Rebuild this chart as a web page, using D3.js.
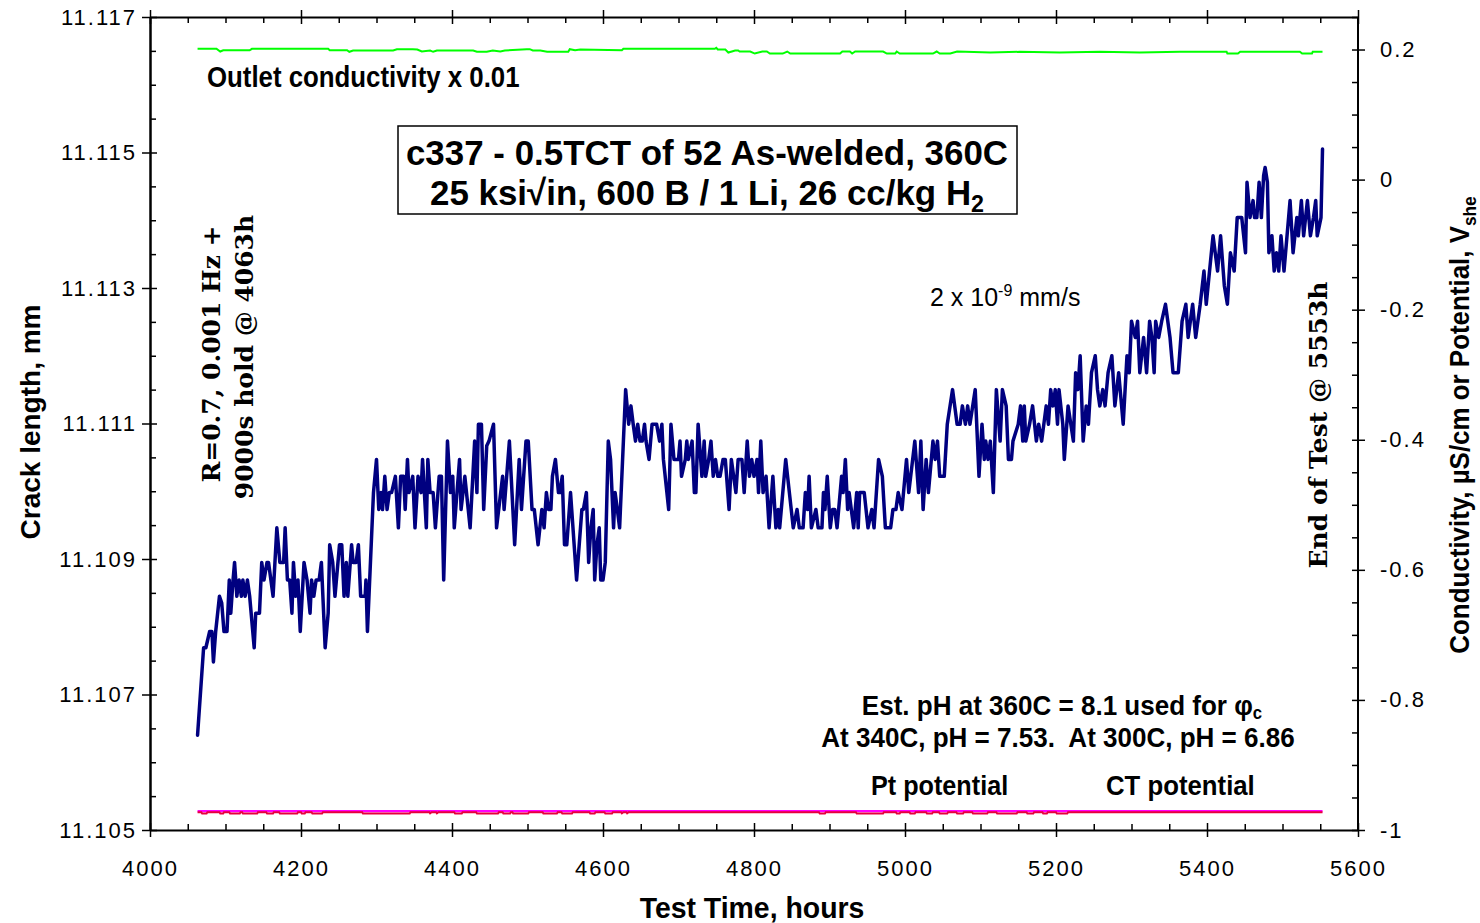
<!DOCTYPE html>
<html>
<head>
<meta charset="utf-8">
<script src="https://cdn.jsdelivr.net/npm/d3@7"></script>
<style>
  body { margin: 0; background: #fff; }
  svg { display: block; font-family: "Liberation Sans", Arial, sans-serif; }
  .axis .tick text { font-size: 22px; letter-spacing: 2px; fill: #000; }
  .axis path.domain { stroke: #000; }
  .axis .tick line { stroke: #000; stroke-width: 1.5px; }
</style>
</head>
<body>
<svg id="chart" width="1480" height="923"></svg>
<script>
// ---- axis ticks ----
const xTicks = [4000, 4200, 4400, 4600, 4800, 5000, 5200, 5400, 5600];
const leftTicks = [11.105, 11.107, 11.109, 11.111, 11.113, 11.115, 11.117];
const rightTicks = [-1, -0.8, -0.6, -0.4, -0.2, 0, 0.2];

// ---- crack length, mm (left axis) : [test hours, crack length] ----
const crackLength = [
  [4063,11.10640],[4071,11.10769],[4074,11.10769],[4079,11.10793],[4082,11.10793],[4084,11.10748],[4087,11.10793],[4092,11.10845],[4095,11.10835],[4098,11.10793],
  [4102,11.10793],[4105,11.10869],[4107,11.10820],[4110,11.10869],[4112,11.10895],[4115,11.10845],[4118,11.10869],[4121,11.10845],[4123,11.10869],[4126,11.10845],
  [4129,11.10869],[4132,11.10845],[4138,11.10769],[4140,11.10820],[4145,11.10820],[4148,11.10895],[4151,11.10869],[4155,11.10895],[4157,11.10895],[4163,11.10845],
  [4168,11.10946],[4172,11.10895],[4177,11.10895],[4179,11.10946],[4182,11.10869],[4185,11.10869],[4188,11.10820],[4190,11.10895],[4193,11.10845],[4196,11.10869],
  [4199,11.10793],[4204,11.10895],[4208,11.10869],[4212,11.10820],[4214,11.10869],[4217,11.10845],[4220,11.10869],[4224,11.10869],[4227,11.10895],[4232,11.10769],
  [4236,11.10820],[4238,11.10921],[4242,11.10895],[4245,11.10845],[4251,11.10921],[4254,11.10921],[4257,11.10845],[4260,11.10895],[4262,11.10845],[4267,11.10921],
  [4269,11.10895],[4273,11.10895],[4276,11.10921],[4279,11.10845],[4285,11.10845],[4286,11.10869],[4288,11.10793],[4296,11.10998],[4300,11.11047],[4303,11.10973],
  [4306,11.10998],[4308,11.10973],[4311,11.11022],[4314,11.10973],[4317,11.10998],[4320,11.10998],[4325,11.11022],[4329,11.10946],[4332,11.11022],[4336,11.11022],
  [4338,11.10973],[4341,11.11047],[4343,11.10998],[4348,11.11022],[4351,11.10946],[4355,11.11022],[4359,11.10998],[4361,11.11047],[4366,11.10946],[4368,11.11047],
  [4371,11.10998],[4375,11.10998],[4378,11.10946],[4383,11.11022],[4386,11.11022],[4389,11.10869],[4394,11.11074],[4398,11.10998],[4401,11.11022],[4403,11.10946],
  [4410,11.11047],[4412,11.10973],[4417,11.11022],[4424,11.10946],[4430,11.11074],[4433,11.10998],[4435,11.11099],[4439,11.11099],[4442,11.10973],[4446,11.11067],
  [4449,11.11074],[4455,11.11099],[4459,11.10946],[4467,11.11022],[4469,11.10973],[4476,11.11074],[4483,11.10921],[4489,11.11047],[4492,11.10973],[4498,11.11074],
  [4501,11.11074],[4506,11.10973],[4509,11.10973],[4514,11.10921],[4519,11.10973],[4522,11.10946],[4525,11.10998],[4528,11.10973],[4531,11.10973],[4533,11.11022],
  [4537,11.11047],[4541,11.10998],[4543,11.10998],[4546,11.11022],[4549,11.10921],[4552,11.10921],[4557,11.10998],[4565,11.10869],[4572,11.10973],[4574,11.10973],
  [4578,11.10998],[4581,11.10895],[4584,11.10946],[4587,11.10973],[4589,11.10869],[4592,11.10921],[4595,11.10946],[4597,11.10869],[4600,11.10869],[4603,11.10895],
  [4607,11.11074],[4610,11.11047],[4614,11.10946],[4616,11.10998],[4619,11.10973],[4622,11.10946],[4630,11.11150],[4634,11.11099],[4637,11.11126],[4640,11.11099],
  [4643,11.11074],[4646,11.11099],[4649,11.11074],[4652,11.11074],[4655,11.11099],[4657,11.11074],[4661,11.11047],[4665,11.11099],[4671,11.11099],[4675,11.11074],
  [4678,11.11099],[4680,11.11047],[4687,11.10973],[4690,11.11099],[4694,11.11047],[4700,11.11047],[4702,11.11074],[4704,11.11022],[4709,11.11047],[4711,11.11074],
  [4713,11.11047],[4718,11.11074],[4721,11.10998],[4723,11.10998],[4726,11.11099],[4731,11.11022],[4734,11.11074],[4736,11.11022],[4740,11.11047],[4743,11.11074],
  [4746,11.11022],[4749,11.11047],[4752,11.11022],[4755,11.11022],[4759,11.11047],[4762,11.11047],[4767,11.10973],[4770,11.11047],[4776,11.10998],[4779,11.11047],
  [4784,11.11047],[4787,11.10998],[4791,11.11074],[4794,11.11022],[4797,11.11047],[4800,11.11022],[4804,11.11047],[4806,11.10998],[4809,11.11074],[4812,11.10998],
  [4816,11.11022],[4820,11.10946],[4825,11.11022],[4829,11.10946],[4832,11.10973],[4834,11.10946],[4842,11.11047],[4852,11.10946],[4857,11.10973],[4860,11.10946],
  [4865,11.10946],[4868,11.10998],[4871,11.10973],[4873,11.11022],[4876,11.10946],[4882,11.10973],[4885,11.10946],[4890,11.10946],[4892,11.10998],[4894,11.10973],
  [4897,11.11022],[4901,11.10946],[4904,11.10973],[4907,11.10973],[4910,11.10946],[4916,11.11022],[4918,11.10998],[4921,11.11047],[4924,11.10973],[4926,11.10998],
  [4932,11.10946],[4936,11.10998],[4938,11.10946],[4940,11.10998],[4946,11.10998],[4951,11.10946],[4956,11.10973],[4959,11.10946],[4965,11.11047],[4970,11.11022],
  [4974,11.10946],[4981,11.10946],[4984,11.10973],[4988,11.10973],[4991,11.10998],[4996,11.10973],[5002,11.11047],[5005,11.10998],[5013,11.11074],[5018,11.10998],
  [5021,11.11074],[5024,11.10973],[5028,11.11047],[5031,11.10998],[5037,11.11074],[5040,11.11047],[5043,11.11074],[5046,11.11022],[5052,11.11022],[5056,11.11099],
  [5063,11.11150],[5069,11.11099],[5073,11.11099],[5076,11.11126],[5080,11.11099],[5083,11.11126],[5086,11.11099],[5093,11.11150],[5098,11.11022],[5102,11.11099],
  [5105,11.11047],[5107,11.11074],[5110,11.11047],[5113,11.11074],[5117,11.10998],[5121,11.11150],[5126,11.11074],[5129,11.11150],[5134,11.11126],[5137,11.11047],
  [5141,11.11047],[5143,11.11074],[5150,11.11099],[5153,11.11126],[5156,11.11074],[5158,11.11126],[5160,11.11074],[5165,11.11099],[5169,11.11126],[5174,11.11074],
  [5177,11.11099],[5181,11.11074],[5187,11.11126],[5190,11.11099],[5193,11.11150],[5196,11.11126],[5199,11.11150],[5202,11.11099],[5204,11.11150],[5209,11.11099],
  [5211,11.11047],[5216,11.11126],[5223,11.11074],[5226,11.11175],[5229,11.11150],[5232,11.11200],[5236,11.11074],[5240,11.11126],[5243,11.11099],[5247,11.11175],
  [5252,11.11200],[5255,11.11150],[5258,11.11126],[5262,11.11150],[5265,11.11126],[5269,11.11175],[5274,11.11200],[5278,11.11126],[5283,11.11175],[5289,11.11099],
  [5294,11.11200],[5297,11.11175],[5300,11.11251],[5305,11.11227],[5308,11.11251],[5311,11.11175],[5316,11.11227],[5320,11.11175],[5324,11.11251],[5327,11.11227],
  [5330,11.11175],[5332,11.11251],[5336,11.11227],[5340,11.11251],[5345,11.11276],[5351,11.11227],[5355,11.11175],[5362,11.11175],[5367,11.11251],[5372,11.11276],
  [5375,11.11227],[5381,11.11276],[5385,11.11227],[5391,11.11276],[5396,11.11325],[5399,11.11276],[5408,11.11377],[5414,11.11325],[5418,11.11377],[5423,11.11303],
  [5427,11.11276],[5431,11.11352],[5436,11.11325],[5440,11.11404],[5446,11.11404],[5451,11.11352],[5453,11.11456],[5457,11.11404],[5461,11.11429],[5463,11.11404],
  [5466,11.11404],[5469,11.11456],[5472,11.11404],[5475,11.11466],[5477,11.11478],[5480,11.11456],[5482,11.11352],[5486,11.11377],[5489,11.11325],[5492,11.11352],
  [5495,11.11325],[5498,11.11377],[5502,11.11325],[5510,11.11429],[5514,11.11352],[5519,11.11404],[5521,11.11377],[5525,11.11429],[5528,11.11377],[5533,11.11429],
  [5537,11.11377],[5541,11.11404],[5544,11.11429],[5546,11.11377],[5551,11.11404],[5553,11.11505]
];

// ---- outlet conductivity x 0.01 (right axis) ----
const outletConductivity = [
  [4063,0.2011],[4088,0.2011],[4093,0.1969],[4097,0.1989],[4132,0.1989],[4135,0.2011],[4236,0.2011],[4238,0.1989],
  [4261,0.1989],[4264,0.1965],[4269,0.1985],[4322,0.1985],[4327,0.2005],[4348,0.2005],[4354,0.2000],[4360,0.1969],
  [4371,0.1985],[4375,0.1965],[4380,0.1985],[4428,0.1985],[4433,0.1965],[4446,0.1965],[4454,0.1985],[4464,0.1969],
  [4470,0.1985],[4499,0.2005],[4503,0.2005],[4507,0.1985],[4517,0.1985],[4526,0.1965],[4554,0.1965],[4556,0.2005],
  [4563,0.1989],[4570,0.2000],[4625,0.1989],[4627,0.2011],[4748,0.2011],[4750,0.2026],[4752,0.2000],[4762,0.2000],
  [4766,0.1954],[4775,0.1985],[4779,0.1985],[4781,0.1969],[4795,0.1969],[4801,0.1938],[4811,0.1969],[4817,0.1969],
  [4821,0.1938],[4838,0.1938],[4844,0.1969],[4848,0.1938],[4914,0.1938],[4917,0.1969],[4927,0.1969],[4930,0.1938],
  [4934,0.1969],[4971,0.1969],[4976,0.1938],[4987,0.1938],[4989,0.1969],[4993,0.1938],[5037,0.1938],[5042,0.1969],
  [5046,0.1938],[5060,0.1938],[5069,0.1969],[5113,0.1954],[5152,0.1965],[5205,0.1954],[5258,0.1965],[5311,0.1954],
  [5364,0.1965],[5426,0.1965],[5427,0.1938],[5441,0.1938],[5444,0.1965],[5523,0.1965],[5526,0.1938],[5539,0.1938],
  [5540,0.1965],[5553,0.1965]
];

// ---- Pt potential, V_she (right axis) ----
const ptPotential = [
  [4063,-0.9710],[4300,-0.9710],[4600,-0.9710],[4900,-0.9710],[5200,-0.9710],[5553,-0.9710]
];

// ---- CT potential, V_she (right axis) ----
const ctPotential = [
  [4063,-0.9728],[4068,-0.9728],[4069,-0.9745],[4075,-0.9745],[4076,-0.9728],[4092,-0.9728],[4093,-0.9745],[4097,-0.9745],
  [4098,-0.9728],[4105,-0.9728],[4106,-0.9745],[4119,-0.9745],[4120,-0.9728],[4122,-0.9728],[4123,-0.9745],[4142,-0.9745],
  [4143,-0.9728],[4154,-0.9728],[4155,-0.9745],[4163,-0.9745],[4164,-0.9728],[4171,-0.9728],[4172,-0.9745],[4195,-0.9745],
  [4196,-0.9728],[4200,-0.9728],[4201,-0.9745],[4205,-0.9745],[4206,-0.9728],[4214,-0.9728],[4215,-0.9745],[4228,-0.9745],
  [4229,-0.9728],[4281,-0.9728],[4282,-0.9745],[4344,-0.9745],[4345,-0.9728],[4370,-0.9728],[4371,-0.9745],[4373,-0.9728],
  [4379,-0.9728],[4380,-0.9745],[4382,-0.9728],[4403,-0.9728],[4404,-0.9745],[4413,-0.9745],[4414,-0.9728],[4432,-0.9728],
  [4433,-0.9745],[4461,-0.9745],[4462,-0.9728],[4467,-0.9728],[4468,-0.9745],[4477,-0.9745],[4478,-0.9728],[4480,-0.9728],
  [4481,-0.9745],[4501,-0.9745],[4502,-0.9728],[4520,-0.9728],[4521,-0.9745],[4539,-0.9745],[4540,-0.9728],[4545,-0.9728],
  [4546,-0.9745],[4559,-0.9745],[4560,-0.9728],[4582,-0.9728],[4583,-0.9745],[4589,-0.9745],[4590,-0.9728],[4602,-0.9728],
  [4603,-0.9745],[4612,-0.9745],[4613,-0.9728],[4624,-0.9728],[4625,-0.9745],[4627,-0.9728],[4631,-0.9728],[4632,-0.9745],
  [4634,-0.9728],[4886,-0.9728],[4887,-0.9745],[4894,-0.9745],[4895,-0.9728],[4935,-0.9728],[4936,-0.9745],[4971,-0.9745],
  [4972,-0.9728],[4988,-0.9728],[4989,-0.9745],[4993,-0.9745],[4994,-0.9728],[5006,-0.9728],[5007,-0.9745],[5013,-0.9745],
  [5014,-0.9728],[5028,-0.9728],[5029,-0.9745],[5036,-0.9745],[5037,-0.9728],[5045,-0.9728],[5046,-0.9745],[5056,-0.9745],
  [5057,-0.9728],[5068,-0.9728],[5069,-0.9745],[5077,-0.9745],[5078,-0.9728],[5089,-0.9728],[5090,-0.9745],[5109,-0.9745],
  [5110,-0.9728],[5121,-0.9728],[5122,-0.9745],[5148,-0.9745],[5149,-0.9728],[5161,-0.9728],[5162,-0.9745],[5170,-0.9745],
  [5171,-0.9728],[5182,-0.9728],[5183,-0.9745],[5188,-0.9745],[5189,-0.9728],[5200,-0.9728],[5201,-0.9745],[5215,-0.9745],
  [5216,-0.9728],[5553,-0.9728]
];

// ---- layout & scales ----
const svg = d3.select("#chart");
const plot = { left: 150, right: 1358, top: 17, bottom: 830 };

const x = d3.scaleLinear().domain([4000, 5600]).range([plot.left, plot.right]);
const yL = d3.scaleLinear().domain([11.105, 11.117]).range([plot.bottom, plot.top]);
const yR = d3.scaleLinear().domain([-1, 0.25]).range([plot.bottom, plot.top]);

const xMinor = d3.range(4000, 5601, 50).filter(v => v % 200 !== 0);
const yLMinor = d3.range(0, 25).map(i => 11.105 + i * 0.0005).filter((v, i) => i % 4 !== 0);
const yRMinor = d3.range(0, 26).map(i => -1 + i * 0.05).filter((v, i) => i % 4 !== 0);

const fmtRight = d => d === 0 ? "0" : String(+d.toFixed(1));

// ---- axes ----
function stripDomain(sel) { sel.select(".domain").remove(); }

// bottom
const gB = svg.append("g").attr("class", "axis").attr("transform", `translate(0,${plot.bottom})`);
gB.call(d3.axisBottom(x).tickValues(xTicks).tickSize(7).tickSizeOuter(0).tickPadding(23).tickFormat(d3.format("d")));
gB.select(".domain").attr("stroke-width", 2);
svg.append("g").attr("class", "axis").attr("transform", `translate(0,${plot.bottom})`)
  .call(d3.axisTop(x).tickValues(xTicks).tickSize(7).tickFormat("")).call(stripDomain);
svg.append("g").attr("class", "axis").attr("transform", `translate(0,${plot.bottom})`)
  .call(d3.axisTop(x).tickValues(xMinor).tickSize(6).tickFormat("")).call(stripDomain);

// top
const gT = svg.append("g").attr("class", "axis").attr("transform", `translate(0,${plot.top})`);
gT.call(d3.axisTop(x).tickValues(xTicks).tickSize(7).tickSizeOuter(0).tickFormat(""));
gT.select(".domain").attr("stroke-width", 2);
svg.append("g").attr("class", "axis").attr("transform", `translate(0,${plot.top})`)
  .call(d3.axisBottom(x).tickValues(xTicks).tickSize(7).tickFormat("")).call(stripDomain);
svg.append("g").attr("class", "axis").attr("transform", `translate(0,${plot.top})`)
  .call(d3.axisBottom(x).tickValues(xMinor).tickSize(6).tickFormat("")).call(stripDomain);

// left
const gL = svg.append("g").attr("class", "axis").attr("transform", `translate(${plot.left},0)`);
gL.call(d3.axisLeft(yL).tickValues(leftTicks).tickSize(8).tickSizeOuter(0).tickPadding(5).tickFormat(d3.format(".3f")));
gL.select(".domain").attr("stroke-width", 2.5);
svg.append("g").attr("class", "axis").attr("transform", `translate(${plot.left},0)`)
  .call(d3.axisRight(yL).tickValues(leftTicks).tickSize(7).tickFormat("")).call(stripDomain);
svg.append("g").attr("class", "axis").attr("transform", `translate(${plot.left},0)`)
  .call(d3.axisRight(yL).tickValues(yLMinor).tickSize(6).tickFormat("")).call(stripDomain);

// right
const gR = svg.append("g").attr("class", "axis").attr("transform", `translate(${plot.right},0)`);
gR.call(d3.axisRight(yR).tickValues(rightTicks).tickSize(7).tickSizeOuter(0).tickPadding(15).tickFormat(fmtRight));
gR.select(".domain").attr("stroke-width", 2).attr("d", `M0,${plot.top}V${plot.bottom}`);
svg.append("g").attr("class", "axis").attr("transform", `translate(${plot.right},0)`)
  .call(d3.axisLeft(yR).tickValues(rightTicks).tickSize(6).tickFormat("")).call(stripDomain);
svg.append("g").attr("class", "axis").attr("transform", `translate(${plot.right},0)`)
  .call(d3.axisLeft(yR).tickValues(yRMinor).tickSize(6).tickFormat("")).call(stripDomain);

// ---- series ----
const lineL = d3.line().x(d => x(d[0])).y(d => yL(d[1]));
const lineR = d3.line().x(d => x(d[0])).y(d => yR(d[1]));

svg.append("path").datum(outletConductivity).attr("d", lineR)
  .attr("fill", "none").attr("stroke", "#00ff00").attr("stroke-width", 2);
svg.append("path").datum(ptPotential).attr("d", lineR)
  .attr("fill", "none").attr("stroke", "#ff00ff").attr("stroke-width", 2.2);
svg.append("path").datum(ctPotential).attr("d", lineR)
  .attr("fill", "none").attr("stroke", "#e6003c").attr("stroke-width", 2);
svg.append("path").datum(crackLength).attr("d", lineL)
  .attr("fill", "none").attr("stroke", "#000080").attr("stroke-width", 3.5)
  .attr("stroke-linejoin", "round").attr("stroke-linecap", "round");

// ---- text helpers ----
function addText(opts) {
  const t = svg.append("text")
    .attr("transform", `translate(${opts.x},${opts.y})` + (opts.rotate ? ` rotate(${opts.rotate})` : "") + ` scale(${opts.sx || 1},1)`)
    .attr("text-anchor", opts.anchor || "start")
    .attr("font-size", opts.size)
    .attr("font-weight", opts.weight || "bold")
    .attr("font-family", opts.family || "'Liberation Sans', Arial, sans-serif")
    .style("white-space", "pre")
    .attr("fill", "#000");
  opts.parts.forEach(p => {
    const s = t.append("tspan").text(p.text);
    if (p.size) s.attr("font-size", p.size);
    if (p.dy) s.attr("dy", p.dy);
  });
  return t;
}

// axis titles
addText({ x: 40, y: 422, rotate: -90, anchor: "middle", size: 28, sx: 1,
  parts: [{ text: "Crack length, mm" }] });
addText({ x: 752, y: 918, anchor: "middle", size: 29, sx: 0.98,
  parts: [{ text: "Test Time, hours" }] });
addText({ x: 1469, y: 425, rotate: -90, anchor: "middle", size: 27, sx: 0.96,
  parts: [{ text: "Conductivity, \u00b5S/cm or Potential, V" }, { text: "she", size: 18, dy: 7 }] });

// annotations
addText({ x: 207, y: 87, size: 29, sx: 0.89, parts: [{ text: "Outlet conductivity x 0.01" }] });

svg.append("rect").attr("x", 398).attr("y", 126).attr("width", 619).attr("height", 88)
  .attr("fill", "#fff").attr("stroke", "#000").attr("stroke-width", 1.5);
addText({ x: 707, y: 165, anchor: "middle", size: 36, sx: 0.97,
  parts: [{ text: "c337 - 0.5TCT of 52 As-welded, 360C" }] });
addText({ x: 707, y: 205, anchor: "middle", size: 36, sx: 0.97,
  parts: [{ text: "25 ksi\u221ain, 600 B / 1 Li, 26 cc/kg H" }, { text: "2", size: 24, dy: 7 }] });

addText({ x: 930, y: 306, size: 25, weight: "normal",
  parts: [{ text: "2 x 10" }, { text: "-9", size: 16, dy: -10 }, { text: " mm/s", dy: 10 }] });

addText({ x: 220, y: 354, rotate: -90, anchor: "middle", size: 25, family: "'DejaVu Serif', serif",
  parts: [{ text: "R=0.7, 0.001 Hz +" }] });
addText({ x: 253, y: 357, rotate: -90, anchor: "middle", size: 25, family: "'DejaVu Serif', serif",
  parts: [{ text: "9000s hold @ 4063h" }] });
addText({ x: 1327, y: 425, rotate: -90, anchor: "middle", size: 25, family: "'DejaVu Serif', serif",
  parts: [{ text: "End of Test @ 5553h" }] });

addText({ x: 1062, y: 715, anchor: "middle", size: 28, sx: 0.93,
  parts: [{ text: "Est. pH at 360C = 8.1 used for \u03c6" }, { text: "c", size: 18, dy: 4 }] });
addText({ x: 1058, y: 747, anchor: "middle", size: 28, sx: 0.93,
  parts: [{ text: "At 340C, pH = 7.53.  At 300C, pH = 6.86" }] });

addText({ x: 871, y: 795, size: 28, sx: 0.9, parts: [{ text: "Pt potential" }] });
addText({ x: 1106, y: 795, size: 28, sx: 0.92, parts: [{ text: "CT potential" }] });
</script>
</body>
</html>
